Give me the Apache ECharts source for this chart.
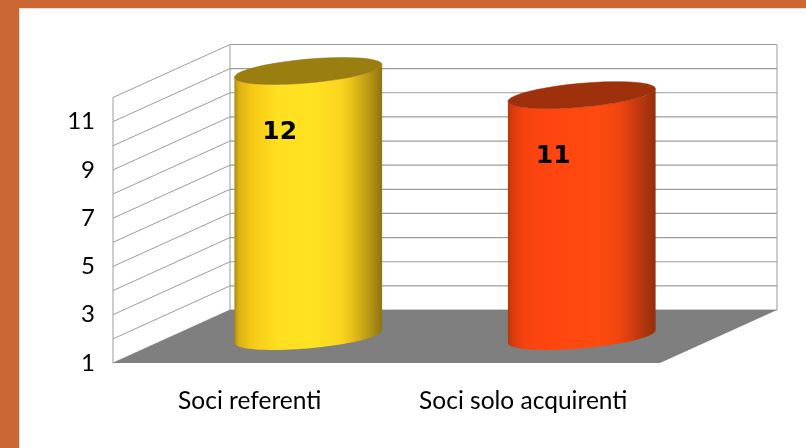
<!DOCTYPE html>
<html>
<head>
<meta charset="utf-8">
<style>
  html, body { margin: 0; padding: 0; background: #fff; }
  #chart { width: 806px; height: 448px; }
</style>
<script src="https://cdn.jsdelivr.net/npm/echarts@6/dist/echarts.min.js"></script>
</head>
<body>
<div id="chart"></div>
<script>
const categories = ["Soci referenti", "Soci solo acquirenti"];
const barValues = [12, 11];
const axisTicks = [1, 2, 3, 4, 5, 6, 7, 8, 9, 10, 11, 12];
const tickLabels = [1, 3, 5, 7, 9, 11];

// depth of the fake 3d box, pixels
const DEPTH_X = 117;
const DEPTH_Y = -53;
const GRID_COLOR = "#9c9c9c";
const FLOOR_COLOR = "#7f7f7f";
const FRAME_COLOR = "#cb6734";

const barStyles = [
  {
    top: "#9a7f10",
    edge: "#8a7010",
    stops: [
      [0, "#a88c12"], [0.03, "#dcb114"], [0.12, "#f6c816"], [0.3, "#ffe020"],
      [0.52, "#ffe222"], [0.72, "#fbd51e"], [0.8, "#e6bf1a"], [0.9, "#bd9c15"], [1, "#8f740e"],
    ],
  },
  {
    top: "#9f300c",
    edge: "#8f2a0a",
    stops: [
      [0, "#b8360c"], [0.03, "#d83c0c"], [0.12, "#f8430e"], [0.3, "#ff4510"],
      [0.62, "#ff4a10"], [0.76, "#f0450f"], [0.9, "#bb370e"], [1, "#92300c"],
    ],
  },
];

const lineStyle = { stroke: GRID_COLOR, lineWidth: 1 };
const backLineStyle = { stroke: GRID_COLOR, lineWidth: 1.2 };

// walls and floor, one item per y tick
const renderWall = (params, api) => {
  const cs = params.coordSys;
  const y = api.coord([0, api.value(0)])[1];
  const left = cs.x;
  const right = cs.x + cs.width;
  const children = [
    {
      type: "line",
      shape: { x1: left, y1: y, x2: left + DEPTH_X, y2: y + DEPTH_Y },
      style: lineStyle,
    },
    {
      type: "line",
      shape: { x1: left + DEPTH_X, y1: y + DEPTH_Y, x2: right + DEPTH_X, y2: y + DEPTH_Y },
      style: backLineStyle,
    },
  ];
  if (params.dataIndex === 0) {
    const topY = cs.y;
    children.push(
      {
        type: "line",
        shape: { x1: left, y1: y, x2: left, y2: topY },
        style: lineStyle,
      },
      {
        type: "line",
        shape: { x1: left + DEPTH_X, y1: y + DEPTH_Y, x2: left + DEPTH_X, y2: topY + DEPTH_Y },
        style: lineStyle,
      },
      {
        type: "line",
        shape: { x1: right + DEPTH_X, y1: y + DEPTH_Y, x2: right + DEPTH_X, y2: topY + DEPTH_Y },
        style: lineStyle,
      },
      {
        type: "polygon",
        shape: {
          points: [
            [left, y],
            [left + DEPTH_X, y + DEPTH_Y],
            [right + DEPTH_X, y + DEPTH_Y],
            [right, y],
          ],
        },
        style: { fill: FLOOR_COLOR },
      }
    );
  }
  return { type: "group", children };
};

// tilted ellipse seen from the right side
const ellipsePoints = (cx, cy, rx, ry, from, to) => {
  const tilt = 1.08;
  const pts = [];
  for (let i = 0; i <= 40; i++) {
    const t = from + ((to - from) * i) / 40;
    pts.push([cx + rx * Math.cos(t), cy - ry * Math.cos(t - tilt)]);
  }
  return pts;
};

const renderCylinder = (params, api) => {
  const idx = api.value(0);
  const val = api.value(1);
  const st = barStyles[idx];
  const top = api.coord([idx, val]);
  const base = api.coord([idx, axisTicks[0]]);
  const cx = top[0] + DEPTH_X / 2;
  const topY = top[1] + DEPTH_Y / 2;
  const baseY = base[1] + DEPTH_Y / 2;
  const rx = api.size([1, 0])[0] * 0.27;
  const ry = 13.5;
  const body = ellipsePoints(cx, baseY, rx, ry, 0, -Math.PI).concat(
    ellipsePoints(cx, topY, rx, ry, -Math.PI, 0)
  );
  return {
    type: "group",
    children: [
      {
        type: "polygon",
        shape: { points: body },
        style: {
          fill: new echarts.graphic.LinearGradient(
            0, 0, 1, 0,
            st.stops.map((s) => ({ offset: s[0], color: s[1] }))
          ),
        },
      },
      {
        type: "polygon",
        shape: { points: ellipsePoints(cx, topY, rx, ry, 0, Math.PI * 2) },
        style: { fill: st.top, stroke: st.edge, lineWidth: 0.5 },
      },
      {
        type: "text",
        style: {
          text: String(val),
          x: cx - 28.5,
          y: topY + 61,
          fill: "#000",
          font: "bold 25px 'DejaVu Sans'",
          align: "center",
          verticalAlign: "middle",
        },
      },
    ],
  };
};

const chart = echarts.init(document.getElementById("chart"));
chart.setOption({
  animation: false,
  graphic: [
    { type: "rect", z: -10, shape: { x: 0, y: 0, width: 806, height: 8 }, style: { fill: FRAME_COLOR } },
    { type: "rect", z: -10, shape: { x: 0, y: 0, width: 19, height: 448 }, style: { fill: FRAME_COLOR } },
    { type: "rect", z: -10, shape: { x: 19, y: 8, width: 787, height: 1 }, style: { fill: "#f3d9c9" } },
    { type: "rect", z: -10, shape: { x: 19, y: 8, width: 1, height: 440 }, style: { fill: "#f3d9c9" } },
  ],
  grid: { left: 113, top: 97.5, width: 547, height: 265.5 },
  xAxis: {
    type: "category",
    data: categories,
    axisLine: { show: false },
    axisTick: { show: false },
    splitLine: { show: false },
    axisLabel: {
      color: "#000",
      fontFamily: "Lato",
      fontSize: 24.5,
      margin: 26,
    },
  },
  yAxis: {
    type: "value",
    min: 1,
    max: 12,
    interval: 1,
    axisLine: { show: false },
    axisTick: { show: false },
    splitLine: { show: false },
    axisLabel: {
      color: "#000",
      fontFamily: "Lato",
      fontSize: 24,
      margin: 18,
      padding: [17, 0, 0, 0],
      formatter: (v) => (tickLabels.includes(v) ? String(v) : ""),
    },
  },
  series: [
    {
      type: "custom",
      silent: true,
      data: axisTicks.map((t) => [t]),
      encode: { y: 0 },
      renderItem: renderWall,
      z: 1,
    },
    {
      type: "custom",
      silent: true,
      data: categories.map((c, i) => [i, barValues[i]]),
      encode: { x: 0, y: 1 },
      renderItem: renderCylinder,
      z: 2,
    },
  ],
});
</script>
</body>
</html>
